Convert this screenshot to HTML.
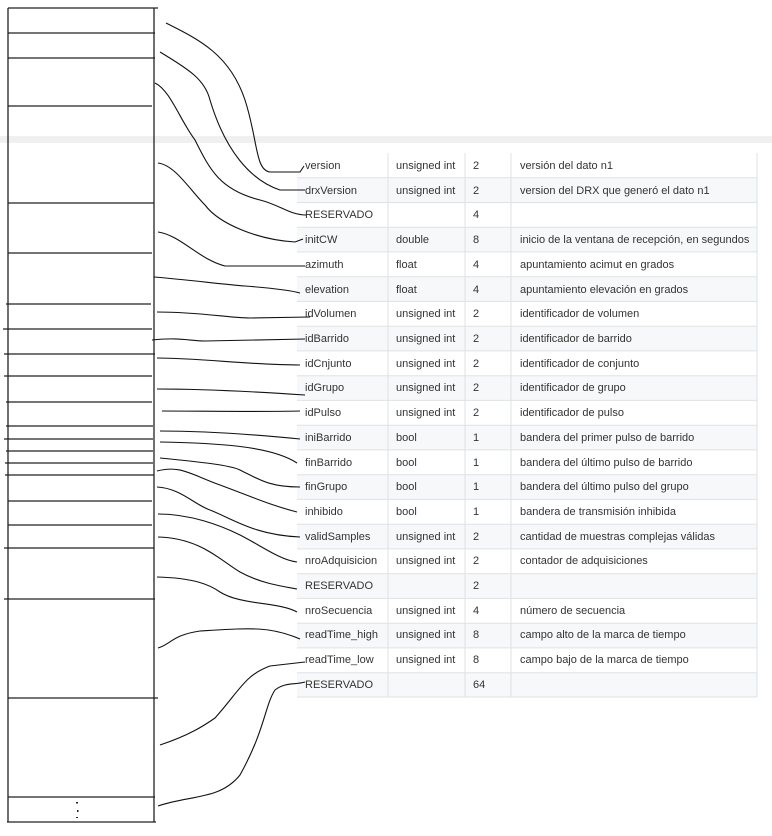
<!DOCTYPE html>
<html><head><meta charset="utf-8"><style>
html,body{margin:0;padding:0;background:#fff;width:772px;height:836px;overflow:hidden}
svg{display:block}
text{font-family:"Liberation Sans",sans-serif;font-size:11px;fill:#333}
</style></head><body>
<svg width="772" height="836" viewBox="0 0 772 836" xmlns="http://www.w3.org/2000/svg">
<rect x="0" y="136" width="772" height="7" fill="#f0f0f0"/>
<g id="tbl">
<rect x="297" y="177.7" width="460" height="24.7" fill="#f6f8fa"/>
<rect x="297" y="227.2" width="460" height="24.7" fill="#f6f8fa"/>
<rect x="297" y="276.7" width="460" height="24.7" fill="#f6f8fa"/>
<rect x="297" y="326.2" width="460" height="24.7" fill="#f6f8fa"/>
<rect x="297" y="375.7" width="460" height="24.7" fill="#f6f8fa"/>
<rect x="297" y="425.2" width="460" height="24.7" fill="#f6f8fa"/>
<rect x="297" y="474.7" width="460" height="24.7" fill="#f6f8fa"/>
<rect x="297" y="524.2" width="460" height="24.7" fill="#f6f8fa"/>
<rect x="297" y="573.7" width="460" height="24.7" fill="#f6f8fa"/>
<rect x="297" y="623.2" width="460" height="24.7" fill="#f6f8fa"/>
<rect x="297" y="672.7" width="460" height="24.7" fill="#f6f8fa"/>
<g stroke="#dfe2e5" stroke-width="1">
<line x1="388" y1="153" x2="388" y2="697"/><line x1="465" y1="153" x2="465" y2="697"/><line x1="511" y1="153" x2="511" y2="697"/><line x1="757" y1="153" x2="757" y2="697"/>
<line x1="297" y1="177.7" x2="757" y2="177.7"/><line x1="297" y1="202.5" x2="757" y2="202.5"/><line x1="297" y1="227.2" x2="757" y2="227.2"/><line x1="297" y1="251.9" x2="757" y2="251.9"/><line x1="297" y1="276.7" x2="757" y2="276.7"/><line x1="297" y1="301.4" x2="757" y2="301.4"/><line x1="297" y1="326.2" x2="757" y2="326.2"/><line x1="297" y1="350.9" x2="757" y2="350.9"/><line x1="297" y1="375.7" x2="757" y2="375.7"/><line x1="297" y1="400.4" x2="757" y2="400.4"/><line x1="297" y1="425.2" x2="757" y2="425.2"/><line x1="297" y1="449.9" x2="757" y2="449.9"/><line x1="297" y1="474.7" x2="757" y2="474.7"/><line x1="297" y1="499.4" x2="757" y2="499.4"/><line x1="297" y1="524.2" x2="757" y2="524.2"/><line x1="297" y1="548.9" x2="757" y2="548.9"/><line x1="297" y1="573.7" x2="757" y2="573.7"/><line x1="297" y1="598.4" x2="757" y2="598.4"/><line x1="297" y1="623.2" x2="757" y2="623.2"/><line x1="297" y1="647.9" x2="757" y2="647.9"/><line x1="297" y1="672.7" x2="757" y2="672.7"/><line x1="297" y1="697" x2="757" y2="697"/>
</g>
</g>
<g>
<text x="305" y="169">version</text><text x="396" y="169">unsigned int</text><text x="473" y="169">2</text><text x="520" y="169">versión del dato n1</text>
<text x="305" y="194">drxVersion</text><text x="396" y="194">unsigned int</text><text x="473" y="194">2</text><text x="520" y="194">version del DRX que generó el dato n1</text>
<text x="305" y="218">RESERVADO</text><text x="473" y="218">4</text>
<text x="305" y="243">initCW</text><text x="396" y="243">double</text><text x="473" y="243">8</text><text x="520" y="243">inicio de la ventana de recepción, en segundos</text>
<text x="305" y="268">azimuth</text><text x="396" y="268">float</text><text x="473" y="268">4</text><text x="520" y="268">apuntamiento acimut en grados</text>
<text x="305" y="293">elevation</text><text x="396" y="293">float</text><text x="473" y="293">4</text><text x="520" y="293">apuntamiento elevación en grados</text>
<text x="305" y="317">idVolumen</text><text x="396" y="317">unsigned int</text><text x="473" y="317">2</text><text x="520" y="317">identificador de volumen</text>
<text x="305" y="342">idBarrido</text><text x="396" y="342">unsigned int</text><text x="473" y="342">2</text><text x="520" y="342">identificador de barrido</text>
<text x="305" y="367">idCnjunto</text><text x="396" y="367">unsigned int</text><text x="473" y="367">2</text><text x="520" y="367">identificador de conjunto</text>
<text x="305" y="391">idGrupo</text><text x="396" y="391">unsigned int</text><text x="473" y="391">2</text><text x="520" y="391">identificador de grupo</text>
<text x="305" y="416">idPulso</text><text x="396" y="416">unsigned int</text><text x="473" y="416">2</text><text x="520" y="416">identificador de pulso</text>
<text x="305" y="441">iniBarrido</text><text x="396" y="441">bool</text><text x="473" y="441">1</text><text x="520" y="441">bandera del primer pulso de barrido</text>
<text x="305" y="466">finBarrido</text><text x="396" y="466">bool</text><text x="473" y="466">1</text><text x="520" y="466">bandera del último pulso de barrido</text>
<text x="305" y="490">finGrupo</text><text x="396" y="490">bool</text><text x="473" y="490">1</text><text x="520" y="490">bandera del último pulso del grupo</text>
<text x="305" y="515">inhibido</text><text x="396" y="515">bool</text><text x="473" y="515">1</text><text x="520" y="515">bandera de transmisión inhibida</text>
<text x="305" y="540">validSamples</text><text x="396" y="540">unsigned int</text><text x="473" y="540">2</text><text x="520" y="540">cantidad de muestras complejas válidas</text>
<text x="305" y="564">nroAdquisicion</text><text x="396" y="564">unsigned int</text><text x="473" y="564">2</text><text x="520" y="564">contador de adquisiciones</text>
<text x="305" y="589">RESERVADO</text><text x="473" y="589">2</text>
<text x="305" y="614">nroSecuencia</text><text x="396" y="614">unsigned int</text><text x="473" y="614">4</text><text x="520" y="614">número de secuencia</text>
<text x="305" y="638">readTime_high</text><text x="396" y="638">unsigned int</text><text x="473" y="638">8</text><text x="520" y="638">campo alto de la marca de tiempo</text>
<text x="305" y="663">readTime_low</text><text x="396" y="663">unsigned int</text><text x="473" y="663">8</text><text x="520" y="663">campo bajo de la marca de tiempo</text>
<text x="305" y="688">RESERVADO</text><text x="473" y="688">64</text>
</g>
<g stroke="#222" stroke-width="1.3" fill="none">
<line x1="8" y1="8" x2="8" y2="822"/><line x1="154" y1="8" x2="154" y2="822"/>
<line x1="8" y1="8" x2="158" y2="8"/><line x1="8" y1="33" x2="155" y2="33"/><line x1="8" y1="58" x2="155" y2="58"/><line x1="8" y1="106" x2="152" y2="106"/><line x1="8" y1="203" x2="154" y2="203"/><line x1="8" y1="253" x2="152" y2="253"/><line x1="6" y1="304" x2="151" y2="304"/><line x1="3" y1="329" x2="152" y2="329"/><line x1="4" y1="354" x2="155" y2="354"/><line x1="4" y1="376" x2="152" y2="376"/><line x1="6" y1="402" x2="152" y2="402"/><line x1="6" y1="426" x2="153" y2="426"/><line x1="4" y1="439" x2="153" y2="439"/><line x1="6" y1="451" x2="153" y2="451"/><line x1="5" y1="463" x2="153" y2="463"/><line x1="5" y1="475" x2="154" y2="475"/><line x1="8" y1="501" x2="152" y2="501"/><line x1="8" y1="525" x2="152" y2="525"/><line x1="4" y1="548" x2="154" y2="548"/><line x1="4" y1="599" x2="155" y2="599"/><line x1="8" y1="698" x2="158" y2="698"/><line x1="8" y1="797" x2="155" y2="797"/><line x1="7" y1="822" x2="156" y2="822"/>
</g>
<g stroke="#111" stroke-width="1.1" fill="none">
<path d="M166,23 C200,40 230,55 245,100 C258,140 255,170 270,172 L300,172 L304,166"/>
<path d="M160,52 C190,70 205,80 210,100 C225,150 250,180 280,190 L305,190"/>
<path d="M155,83 C170,90 180,120 195,140 C210,170 220,190 260,200 C280,205 290,215 306,215"/>
<path d="M158,163 C175,165 190,190 205,205 C220,225 260,240 295,242 L303,239"/>
<path d="M158,232 C180,235 200,260 225,266 L305,266"/>
<path d="M154,277 C190,280 220,284 245,286 C270,288 290,290 300,293"/>
<path d="M157,312 C200,312 230,318 250,318 L310,317"/>
<path d="M152,340 C180,337 190,341 205,341 L305,339"/>
<path d="M157,358 C200,358 250,365 300,365"/>
<path d="M157,389 C200,389 260,392 305,395"/>
<path d="M162,411 C200,411 260,412 300,411"/>
<path d="M160,431 C200,431 240,433 300,439"/>
<path d="M160,442 C210,443 270,445 297,463"/>
<path d="M160,458 C200,462 230,465 240,470 C260,480 270,487 300,487"/>
<path d="M157,471 C180,465 190,474 220,485 C255,498 270,505 297,512"/>
<path d="M157,487 C180,488 195,505 210,510 C235,520 255,535 300,537"/>
<path d="M158,514 C190,514 220,525 240,535 C260,545 280,560 297,562"/>
<path d="M158,537 C200,538 220,560 240,572 C260,583 280,586 297,589"/>
<path d="M157,577 C195,578 210,585 220,592 C240,605 280,602 297,612"/>
<path d="M158,648 C170,645 172,635 200,631 C250,628 270,626 300,639"/>
<path d="M160,745 C190,735 205,725 215,718 C240,690 245,675 270,666 L305,662"/>
<path d="M158,806 C190,795 220,800 240,775 C265,730 265,705 275,690 C285,682 295,685 305,682"/>
</g>
<g fill="#222">
<rect x="76" y="802" width="2" height="1.5"/>
<rect x="77" y="810" width="1.5" height="2"/>
<rect x="76" y="817" width="2" height="1"/>
</g>
</svg>
</body></html>
